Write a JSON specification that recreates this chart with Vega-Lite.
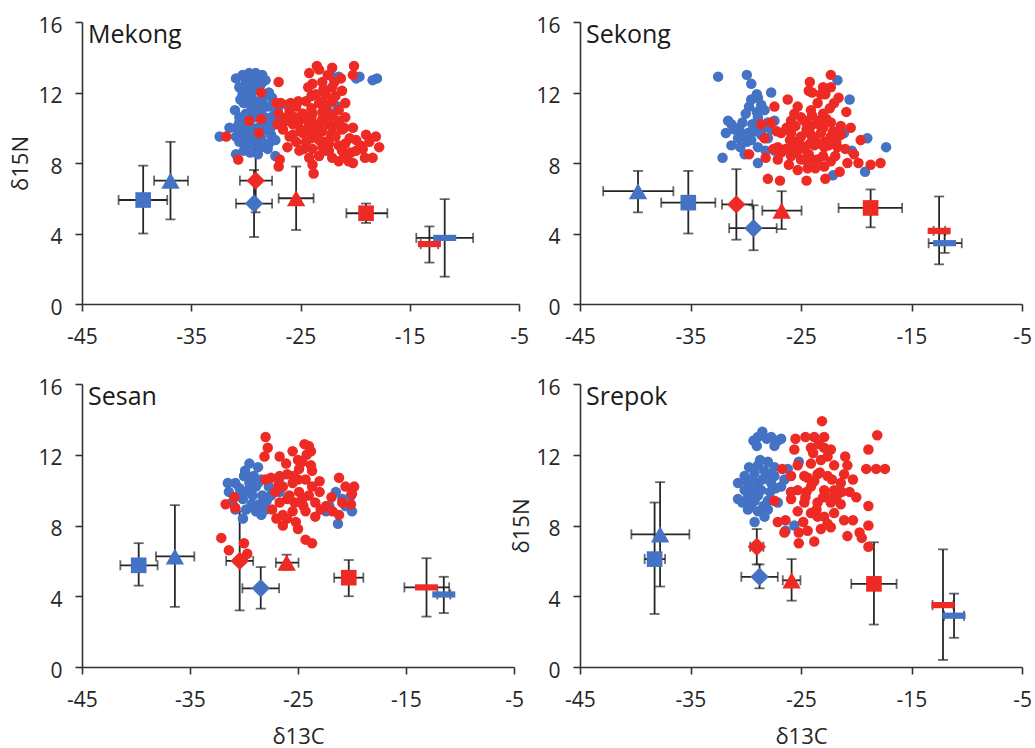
{
"$schema":"https://vega.github.io/schema/vega-lite/v6.json",
"padding":{"left":9,"top":15,"right":0,"bottom":0},
"data":{"values":[
{"p":"Mekong","k":"pt","g":"b","x":-30.9,"y":12.8},{"p":"Mekong","k":"pt","g":"b","x":-30.3,"y":13.0},{"p":"Mekong","k":"pt","g":"b","x":-29.7,"y":13.1},{"p":"Mekong","k":"pt","g":"b","x":-29.1,"y":13.1},{"p":"Mekong","k":"pt","g":"b","x":-28.5,"y":13.0},{"p":"Mekong","k":"pt","g":"b","x":-28.2,"y":12.7},{"p":"Mekong","k":"pt","g":"b","x":-28.6,"y":12.5},{"p":"Mekong","k":"pt","g":"b","x":-29.4,"y":12.5},{"p":"Mekong","k":"pt","g":"b","x":-30.0,"y":12.6},{"p":"Mekong","k":"pt","g":"b","x":-30.6,"y":12.3},{"p":"Mekong","k":"pt","g":"b","x":-30.3,"y":11.9},{"p":"Mekong","k":"pt","g":"b","x":-29.7,"y":11.7},{"p":"Mekong","k":"pt","g":"b","x":-29.1,"y":11.5},{"p":"Mekong","k":"pt","g":"b","x":-28.5,"y":11.6},{"p":"Mekong","k":"pt","g":"b","x":-27.9,"y":12.0},{"p":"Mekong","k":"pt","g":"b","x":-27.6,"y":11.7},{"p":"Mekong","k":"pt","g":"b","x":-28.0,"y":11.2},{"p":"Mekong","k":"pt","g":"b","x":-28.8,"y":11.1},{"p":"Mekong","k":"pt","g":"b","x":-29.5,"y":11.2},{"p":"Mekong","k":"pt","g":"b","x":-30.0,"y":10.8},{"p":"Mekong","k":"pt","g":"b","x":-30.6,"y":10.6},{"p":"Mekong","k":"pt","g":"b","x":-30.9,"y":10.0},{"p":"Mekong","k":"pt","g":"b","x":-30.3,"y":10.2},{"p":"Mekong","k":"pt","g":"b","x":-29.7,"y":10.4},{"p":"Mekong","k":"pt","g":"b","x":-29.1,"y":10.6},{"p":"Mekong","k":"pt","g":"b","x":-28.3,"y":10.6},{"p":"Mekong","k":"pt","g":"b","x":-27.7,"y":10.6},{"p":"Mekong","k":"pt","g":"b","x":-27.3,"y":10.9},{"p":"Mekong","k":"pt","g":"b","x":-27.0,"y":11.2},{"p":"Mekong","k":"pt","g":"b","x":-26.2,"y":11.3},{"p":"Mekong","k":"pt","g":"b","x":-30.9,"y":9.5},{"p":"Mekong","k":"pt","g":"b","x":-30.3,"y":9.6},{"p":"Mekong","k":"pt","g":"b","x":-29.7,"y":9.7},{"p":"Mekong","k":"pt","g":"b","x":-29.1,"y":9.8},{"p":"Mekong","k":"pt","g":"b","x":-28.5,"y":9.8},{"p":"Mekong","k":"pt","g":"b","x":-27.7,"y":9.6},{"p":"Mekong","k":"pt","g":"b","x":-27.3,"y":9.3},{"p":"Mekong","k":"pt","g":"b","x":-27.9,"y":9.1},{"p":"Mekong","k":"pt","g":"b","x":-28.6,"y":8.9},{"p":"Mekong","k":"pt","g":"b","x":-29.4,"y":9.0},{"p":"Mekong","k":"pt","g":"b","x":-30.0,"y":9.1},{"p":"Mekong","k":"pt","g":"b","x":-30.6,"y":9.2},{"p":"Mekong","k":"pt","g":"b","x":-32.4,"y":9.5},{"p":"Mekong","k":"pt","g":"b","x":-30.9,"y":8.5},{"p":"Mekong","k":"pt","g":"b","x":-28.9,"y":8.5},{"p":"Mekong","k":"pt","g":"b","x":-27.3,"y":8.4},{"p":"Mekong","k":"pt","g":"b","x":-27.0,"y":10.6},{"p":"Mekong","k":"pt","g":"b","x":-28.2,"y":10.2},{"p":"Mekong","k":"pt","g":"b","x":-29.4,"y":9.5},{"p":"Mekong","k":"pt","g":"b","x":-31.5,"y":10.0},{"p":"Mekong","k":"pt","g":"b","x":-29.9,"y":12.1},{"p":"Mekong","k":"pt","g":"b","x":-28.9,"y":12.2},{"p":"Mekong","k":"pt","g":"b","x":-30.2,"y":11.4},{"p":"Mekong","k":"pt","g":"b","x":-28.6,"y":10.9},{"p":"Mekong","k":"pt","g":"b","x":-29.5,"y":10.0},{"p":"Mekong","k":"pt","g":"b","x":-28.0,"y":9.9},{"p":"Mekong","k":"pt","g":"b","x":-30.4,"y":9.9},{"p":"Mekong","k":"pt","g":"b","x":-29.0,"y":9.3},{"p":"Mekong","k":"pt","g":"b","x":-31.0,"y":11.0},{"p":"Mekong","k":"pt","g":"b","x":-29.7,"y":12.9},{"p":"Mekong","k":"pt","g":"b","x":-22.1,"y":12.9},{"p":"Mekong","k":"pt","g":"b","x":-21.5,"y":12.9},{"p":"Mekong","k":"pt","g":"b","x":-19.9,"y":12.8},{"p":"Mekong","k":"pt","g":"b","x":-19.6,"y":12.9},{"p":"Mekong","k":"pt","g":"b","x":-18.4,"y":12.7},{"p":"Mekong","k":"pt","g":"b","x":-18.0,"y":12.8},{"p":"Mekong","k":"pt","g":"b","x":-22.1,"y":10.8},{"p":"Mekong","k":"pt","g":"b","x":-21.6,"y":11.2},
{"p":"Mekong","k":"pt","g":"b","x":-30.0,"y":12.9},{"p":"Mekong","k":"pt","g":"b","x":-29.2,"y":12.8},{"p":"Mekong","k":"pt","g":"b","x":-28.8,"y":12.3},{"p":"Mekong","k":"pt","g":"b","x":-29.6,"y":12.2},{"p":"Mekong","k":"pt","g":"b","x":-30.5,"y":11.6},{"p":"Mekong","k":"pt","g":"b","x":-29.5,"y":11.9},{"p":"Mekong","k":"pt","g":"b","x":-28.3,"y":11.9},{"p":"Mekong","k":"pt","g":"b","x":-28.7,"y":11.3},{"p":"Mekong","k":"pt","g":"b","x":-29.3,"y":11.0},{"p":"Mekong","k":"pt","g":"b","x":-29.8,"y":10.7},{"p":"Mekong","k":"pt","g":"b","x":-30.6,"y":10.3},{"p":"Mekong","k":"pt","g":"b","x":-28.9,"y":10.0},{"p":"Mekong","k":"pt","g":"b","x":-27.9,"y":10.3},{"p":"Mekong","k":"pt","g":"b","x":-27.6,"y":10.1},{"p":"Mekong","k":"pt","g":"b","x":-28.6,"y":9.4},{"p":"Mekong","k":"pt","g":"b","x":-29.8,"y":9.3},{"p":"Mekong","k":"pt","g":"b","x":-30.2,"y":8.7},{"p":"Mekong","k":"pt","g":"b","x":-28.0,"y":8.8},{"p":"Mekong","k":"pt","g":"b","x":-29.6,"y":8.6},
{"p":"Mekong","k":"pt","g":"r","x":-23.5,"y":13.5},{"p":"Mekong","k":"pt","g":"r","x":-23.3,"y":13.3},{"p":"Mekong","k":"pt","g":"r","x":-24.2,"y":13.1},{"p":"Mekong","k":"pt","g":"r","x":-22.1,"y":13.4},{"p":"Mekong","k":"pt","g":"r","x":-20.1,"y":13.5},{"p":"Mekong","k":"pt","g":"r","x":-20.2,"y":13.0},{"p":"Mekong","k":"pt","g":"r","x":-21.3,"y":12.8},{"p":"Mekong","k":"pt","g":"r","x":-22.5,"y":13.0},{"p":"Mekong","k":"pt","g":"r","x":-23.9,"y":12.5},{"p":"Mekong","k":"pt","g":"r","x":-23.0,"y":12.6},{"p":"Mekong","k":"pt","g":"r","x":-22.1,"y":12.3},{"p":"Mekong","k":"pt","g":"r","x":-22.7,"y":11.9},{"p":"Mekong","k":"pt","g":"r","x":-23.6,"y":11.9},{"p":"Mekong","k":"pt","g":"r","x":-24.5,"y":11.5},{"p":"Mekong","k":"pt","g":"r","x":-23.3,"y":11.4},{"p":"Mekong","k":"pt","g":"r","x":-22.1,"y":11.5},{"p":"Mekong","k":"pt","g":"r","x":-21.2,"y":12.1},{"p":"Mekong","k":"pt","g":"r","x":-20.9,"y":11.4},{"p":"Mekong","k":"pt","g":"r","x":-27.0,"y":10.8},{"p":"Mekong","k":"pt","g":"r","x":-26.0,"y":11.0},{"p":"Mekong","k":"pt","g":"r","x":-25.4,"y":11.2},{"p":"Mekong","k":"pt","g":"r","x":-24.8,"y":10.8},{"p":"Mekong","k":"pt","g":"r","x":-23.9,"y":10.8},{"p":"Mekong","k":"pt","g":"r","x":-23.0,"y":10.9},{"p":"Mekong","k":"pt","g":"r","x":-22.1,"y":10.7},{"p":"Mekong","k":"pt","g":"r","x":-21.5,"y":11.0},{"p":"Mekong","k":"pt","g":"r","x":-26.3,"y":10.4},{"p":"Mekong","k":"pt","g":"r","x":-25.7,"y":10.2},{"p":"Mekong","k":"pt","g":"r","x":-25.1,"y":10.4},{"p":"Mekong","k":"pt","g":"r","x":-24.2,"y":10.2},{"p":"Mekong","k":"pt","g":"r","x":-23.3,"y":10.2},{"p":"Mekong","k":"pt","g":"r","x":-22.4,"y":10.2},{"p":"Mekong","k":"pt","g":"r","x":-21.5,"y":10.4},{"p":"Mekong","k":"pt","g":"r","x":-20.9,"y":10.6},{"p":"Mekong","k":"pt","g":"r","x":-20.2,"y":10.0},{"p":"Mekong","k":"pt","g":"r","x":-25.7,"y":9.6},{"p":"Mekong","k":"pt","g":"r","x":-24.8,"y":9.7},{"p":"Mekong","k":"pt","g":"r","x":-23.9,"y":9.6},{"p":"Mekong","k":"pt","g":"r","x":-23.0,"y":9.8},{"p":"Mekong","k":"pt","g":"r","x":-22.1,"y":9.7},{"p":"Mekong","k":"pt","g":"r","x":-21.2,"y":9.9},{"p":"Mekong","k":"pt","g":"r","x":-19.0,"y":9.6},{"p":"Mekong","k":"pt","g":"r","x":-18.1,"y":9.5},{"p":"Mekong","k":"pt","g":"r","x":-25.4,"y":9.2},{"p":"Mekong","k":"pt","g":"r","x":-24.5,"y":9.2},{"p":"Mekong","k":"pt","g":"r","x":-23.3,"y":9.3},{"p":"Mekong","k":"pt","g":"r","x":-22.4,"y":9.1},{"p":"Mekong","k":"pt","g":"r","x":-21.5,"y":9.0},{"p":"Mekong","k":"pt","g":"r","x":-20.9,"y":9.1},{"p":"Mekong","k":"pt","g":"r","x":-19.9,"y":9.3},{"p":"Mekong","k":"pt","g":"r","x":-17.8,"y":8.9},{"p":"Mekong","k":"pt","g":"r","x":-19.3,"y":8.8},{"p":"Mekong","k":"pt","g":"r","x":-23.9,"y":8.8},{"p":"Mekong","k":"pt","g":"r","x":-22.7,"y":8.7},{"p":"Mekong","k":"pt","g":"r","x":-21.2,"y":8.7},{"p":"Mekong","k":"pt","g":"r","x":-19.9,"y":8.7},{"p":"Mekong","k":"pt","g":"r","x":-20.6,"y":8.1},{"p":"Mekong","k":"pt","g":"r","x":-22.1,"y":8.3},{"p":"Mekong","k":"pt","g":"r","x":-23.3,"y":8.4},{"p":"Mekong","k":"pt","g":"r","x":-24.2,"y":8.3},{"p":"Mekong","k":"pt","g":"r","x":-23.9,"y":7.9},{"p":"Mekong","k":"pt","g":"r","x":-23.8,"y":7.4},{"p":"Mekong","k":"pt","g":"r","x":-21.5,"y":8.1},{"p":"Mekong","k":"pt","g":"r","x":-20.2,"y":8.0},{"p":"Mekong","k":"pt","g":"r","x":-18.4,"y":8.3},{"p":"Mekong","k":"pt","g":"r","x":-26.3,"y":10.6},{"p":"Mekong","k":"pt","g":"r","x":-27.1,"y":10.2},{"p":"Mekong","k":"pt","g":"r","x":-26.8,"y":11.4},{"p":"Mekong","k":"pt","g":"r","x":-22.2,"y":9.5},{"p":"Mekong","k":"pt","g":"r","x":-25.1,"y":8.7},{"p":"Mekong","k":"pt","g":"r","x":-18.7,"y":9.2},{"p":"Mekong","k":"pt","g":"r","x":-27.0,"y":12.6},{"p":"Mekong","k":"pt","g":"r","x":-28.6,"y":12.0},{"p":"Mekong","k":"pt","g":"r","x":-29.7,"y":10.4},{"p":"Mekong","k":"pt","g":"r","x":-28.6,"y":10.5},{"p":"Mekong","k":"pt","g":"r","x":-28.8,"y":9.7},{"p":"Mekong","k":"pt","g":"r","x":-31.8,"y":9.5},{"p":"Mekong","k":"pt","g":"r","x":-30.7,"y":8.2},{"p":"Mekong","k":"pt","g":"r","x":-26.9,"y":8.2},{"p":"Mekong","k":"pt","g":"r","x":-27.0,"y":7.8},{"p":"Mekong","k":"pt","g":"r","x":-27.2,"y":11.4},{"p":"Mekong","k":"pt","g":"r","x":-24.0,"y":11.8},{"p":"Mekong","k":"pt","g":"r","x":-23.0,"y":11.5},{"p":"Mekong","k":"pt","g":"r","x":-24.5,"y":10.5},{"p":"Mekong","k":"pt","g":"r","x":-23.5,"y":10.0},{"p":"Mekong","k":"pt","g":"r","x":-22.5,"y":10.5},{"p":"Mekong","k":"pt","g":"r","x":-25.0,"y":9.9},{"p":"Mekong","k":"pt","g":"r","x":-24.0,"y":9.4},{"p":"Mekong","k":"pt","g":"r","x":-22.8,"y":9.2},{"p":"Mekong","k":"pt","g":"r","x":-21.8,"y":9.5},{"p":"Mekong","k":"pt","g":"r","x":-23.0,"y":8.9},{"p":"Mekong","k":"pt","g":"r","x":-24.8,"y":10.8},{"p":"Mekong","k":"pt","g":"r","x":-21.0,"y":10.0},
{"p":"Mekong","k":"pt","g":"r","x":-24.3,"y":12.3},{"p":"Mekong","k":"pt","g":"r","x":-22.9,"y":12.2},{"p":"Mekong","k":"pt","g":"r","x":-21.9,"y":12.6},{"p":"Mekong","k":"pt","g":"r","x":-25.2,"y":11.5},{"p":"Mekong","k":"pt","g":"r","x":-25.9,"y":11.4},{"p":"Mekong","k":"pt","g":"r","x":-24.0,"y":11.1},{"p":"Mekong","k":"pt","g":"r","x":-22.6,"y":11.2},{"p":"Mekong","k":"pt","g":"r","x":-21.8,"y":11.8},{"p":"Mekong","k":"pt","g":"r","x":-25.5,"y":10.6},{"p":"Mekong","k":"pt","g":"r","x":-24.0,"y":10.5},{"p":"Mekong","k":"pt","g":"r","x":-23.0,"y":10.5},{"p":"Mekong","k":"pt","g":"r","x":-22.0,"y":10.1},{"p":"Mekong","k":"pt","g":"r","x":-26.6,"y":9.9},{"p":"Mekong","k":"pt","g":"r","x":-24.4,"y":9.9},{"p":"Mekong","k":"pt","g":"r","x":-23.4,"y":9.6},{"p":"Mekong","k":"pt","g":"r","x":-20.5,"y":9.4},{"p":"Mekong","k":"pt","g":"r","x":-19.5,"y":9.0},{"p":"Mekong","k":"pt","g":"r","x":-26.0,"y":9.5},{"p":"Mekong","k":"pt","g":"r","x":-22.4,"y":8.7},{"p":"Mekong","k":"pt","g":"r","x":-21.0,"y":8.4},{"p":"Mekong","k":"pt","g":"r","x":-24.7,"y":8.8},{"p":"Mekong","k":"pt","g":"r","x":-26.2,"y":8.9},{"p":"Mekong","k":"pt","g":"r","x":-19.1,"y":8.3},{"p":"Mekong","k":"pt","g":"r","x":-20.4,"y":8.6},
{"p":"Sekong","k":"pt","g":"b","x":-32.5,"y":12.9},{"p":"Sekong","k":"pt","g":"b","x":-29.9,"y":13.0},{"p":"Sekong","k":"pt","g":"b","x":-29.5,"y":12.5},{"p":"Sekong","k":"pt","g":"b","x":-27.7,"y":12.0},{"p":"Sekong","k":"pt","g":"b","x":-28.9,"y":11.7},{"p":"Sekong","k":"pt","g":"b","x":-29.7,"y":11.2},{"p":"Sekong","k":"pt","g":"b","x":-30.0,"y":10.8},{"p":"Sekong","k":"pt","g":"b","x":-28.6,"y":11.3},{"p":"Sekong","k":"pt","g":"b","x":-28.3,"y":11.0},{"p":"Sekong","k":"pt","g":"b","x":-28.9,"y":10.6},{"p":"Sekong","k":"pt","g":"b","x":-31.3,"y":10.2},{"p":"Sekong","k":"pt","g":"b","x":-31.8,"y":9.7},{"p":"Sekong","k":"pt","g":"b","x":-31.0,"y":9.9},{"p":"Sekong","k":"pt","g":"b","x":-30.4,"y":9.6},{"p":"Sekong","k":"pt","g":"b","x":-29.8,"y":9.7},{"p":"Sekong","k":"pt","g":"b","x":-29.2,"y":9.8},{"p":"Sekong","k":"pt","g":"b","x":-28.6,"y":9.6},{"p":"Sekong","k":"pt","g":"b","x":-28.0,"y":9.4},{"p":"Sekong","k":"pt","g":"b","x":-27.7,"y":9.9},{"p":"Sekong","k":"pt","g":"b","x":-31.3,"y":9.0},{"p":"Sekong","k":"pt","g":"b","x":-30.1,"y":8.5},{"p":"Sekong","k":"pt","g":"b","x":-28.9,"y":8.0},{"p":"Sekong","k":"pt","g":"b","x":-32.1,"y":8.3},{"p":"Sekong","k":"pt","g":"b","x":-28.2,"y":8.7},{"p":"Sekong","k":"pt","g":"b","x":-28.9,"y":8.9},{"p":"Sekong","k":"pt","g":"b","x":-29.5,"y":9.3},{"p":"Sekong","k":"pt","g":"b","x":-27.4,"y":8.7},{"p":"Sekong","k":"pt","g":"b","x":-21.7,"y":12.7},{"p":"Sekong","k":"pt","g":"b","x":-20.6,"y":11.6},{"p":"Sekong","k":"pt","g":"b","x":-19.0,"y":9.4},{"p":"Sekong","k":"pt","g":"b","x":-17.3,"y":8.9},{"p":"Sekong","k":"pt","g":"b","x":-19.2,"y":7.5},{"p":"Sekong","k":"pt","g":"b","x":-22.1,"y":7.3},{"p":"Sekong","k":"pt","g":"b","x":-20.4,"y":8.7},{"p":"Sekong","k":"pt","g":"b","x":-21.1,"y":9.7},{"p":"Sekong","k":"pt","g":"b","x":-27.4,"y":10.4},{"p":"Sekong","k":"pt","g":"b","x":-28.0,"y":10.3},{"p":"Sekong","k":"pt","g":"b","x":-30.7,"y":9.4},
{"p":"Sekong","k":"pt","g":"b","x":-30.3,"y":10.3},{"p":"Sekong","k":"pt","g":"b","x":-29.4,"y":10.2},{"p":"Sekong","k":"pt","g":"b","x":-29.0,"y":10.9},{"p":"Sekong","k":"pt","g":"b","x":-30.6,"y":10.0},{"p":"Sekong","k":"pt","g":"b","x":-31.6,"y":10.4},{"p":"Sekong","k":"pt","g":"b","x":-29.9,"y":9.2},{"p":"Sekong","k":"pt","g":"b","x":-30.5,"y":8.9},{"p":"Sekong","k":"pt","g":"b","x":-28.4,"y":10.0},{"p":"Sekong","k":"pt","g":"b","x":-29.0,"y":11.9},{"p":"Sekong","k":"pt","g":"b","x":-29.5,"y":11.6},
{"p":"Sekong","k":"pt","g":"r","x":-22.3,"y":13.0},{"p":"Sekong","k":"pt","g":"r","x":-24.2,"y":12.6},{"p":"Sekong","k":"pt","g":"r","x":-22.3,"y":12.3},{"p":"Sekong","k":"pt","g":"r","x":-21.6,"y":11.7},{"p":"Sekong","k":"pt","g":"r","x":-23.2,"y":11.9},{"p":"Sekong","k":"pt","g":"r","x":-24.3,"y":12.1},{"p":"Sekong","k":"pt","g":"r","x":-26.2,"y":11.6},{"p":"Sekong","k":"pt","g":"r","x":-25.3,"y":11.2},{"p":"Sekong","k":"pt","g":"r","x":-24.1,"y":11.0},{"p":"Sekong","k":"pt","g":"r","x":-22.4,"y":11.1},{"p":"Sekong","k":"pt","g":"r","x":-27.4,"y":11.2},{"p":"Sekong","k":"pt","g":"r","x":-27.7,"y":10.3},{"p":"Sekong","k":"pt","g":"r","x":-28.6,"y":10.2},{"p":"Sekong","k":"pt","g":"r","x":-28.3,"y":9.4},{"p":"Sekong","k":"pt","g":"r","x":-25.9,"y":10.4},{"p":"Sekong","k":"pt","g":"r","x":-24.7,"y":10.4},{"p":"Sekong","k":"pt","g":"r","x":-23.5,"y":10.4},{"p":"Sekong","k":"pt","g":"r","x":-22.3,"y":10.3},{"p":"Sekong","k":"pt","g":"r","x":-21.4,"y":10.1},{"p":"Sekong","k":"pt","g":"r","x":-20.5,"y":10.0},{"p":"Sekong","k":"pt","g":"r","x":-26.8,"y":9.7},{"p":"Sekong","k":"pt","g":"r","x":-25.9,"y":9.7},{"p":"Sekong","k":"pt","g":"r","x":-25.0,"y":9.5},{"p":"Sekong","k":"pt","g":"r","x":-24.1,"y":9.6},{"p":"Sekong","k":"pt","g":"r","x":-23.2,"y":9.7},{"p":"Sekong","k":"pt","g":"r","x":-22.3,"y":9.5},{"p":"Sekong","k":"pt","g":"r","x":-21.4,"y":9.6},{"p":"Sekong","k":"pt","g":"r","x":-19.6,"y":9.3},{"p":"Sekong","k":"pt","g":"r","x":-27.1,"y":8.9},{"p":"Sekong","k":"pt","g":"r","x":-25.9,"y":8.9},{"p":"Sekong","k":"pt","g":"r","x":-24.7,"y":8.8},{"p":"Sekong","k":"pt","g":"r","x":-23.8,"y":9.0},{"p":"Sekong","k":"pt","g":"r","x":-22.9,"y":8.9},{"p":"Sekong","k":"pt","g":"r","x":-21.7,"y":8.9},{"p":"Sekong","k":"pt","g":"r","x":-20.2,"y":8.5},{"p":"Sekong","k":"pt","g":"r","x":-29.7,"y":8.5},{"p":"Sekong","k":"pt","g":"r","x":-28.2,"y":8.3},{"p":"Sekong","k":"pt","g":"r","x":-26.8,"y":8.6},{"p":"Sekong","k":"pt","g":"r","x":-25.9,"y":8.4},{"p":"Sekong","k":"pt","g":"r","x":-24.7,"y":8.2},{"p":"Sekong","k":"pt","g":"r","x":-23.5,"y":8.2},{"p":"Sekong","k":"pt","g":"r","x":-22.3,"y":8.1},{"p":"Sekong","k":"pt","g":"r","x":-20.8,"y":8.0},{"p":"Sekong","k":"pt","g":"r","x":-19.8,"y":8.0},{"p":"Sekong","k":"pt","g":"r","x":-18.7,"y":7.9},{"p":"Sekong","k":"pt","g":"r","x":-17.8,"y":8.0},{"p":"Sekong","k":"pt","g":"r","x":-25.3,"y":7.6},{"p":"Sekong","k":"pt","g":"r","x":-24.4,"y":7.7},{"p":"Sekong","k":"pt","g":"r","x":-22.9,"y":7.8},{"p":"Sekong","k":"pt","g":"r","x":-28.0,"y":7.1},{"p":"Sekong","k":"pt","g":"r","x":-26.9,"y":7.0},{"p":"Sekong","k":"pt","g":"r","x":-24.5,"y":7.0},{"p":"Sekong","k":"pt","g":"r","x":-22.8,"y":7.1},{"p":"Sekong","k":"pt","g":"r","x":-27.1,"y":8.2},{"p":"Sekong","k":"pt","g":"r","x":-24.1,"y":10.1},{"p":"Sekong","k":"pt","g":"r","x":-25.0,"y":8.2},{"p":"Sekong","k":"pt","g":"r","x":-25.6,"y":10.8},{"p":"Sekong","k":"pt","g":"r","x":-24.5,"y":9.9},{"p":"Sekong","k":"pt","g":"r","x":-23.0,"y":10.0},{"p":"Sekong","k":"pt","g":"r","x":-25.5,"y":9.2},{"p":"Sekong","k":"pt","g":"r","x":-23.8,"y":9.4},{"p":"Sekong","k":"pt","g":"r","x":-22.8,"y":9.2},{"p":"Sekong","k":"pt","g":"r","x":-24.3,"y":8.5},{"p":"Sekong","k":"pt","g":"r","x":-26.3,"y":10.0},{"p":"Sekong","k":"pt","g":"r","x":-21.0,"y":8.8},{"p":"Sekong","k":"pt","g":"r","x":-23.5,"y":11.4},{"p":"Sekong","k":"pt","g":"r","x":-22.0,"y":11.4},
{"p":"Sekong","k":"pt","g":"r","x":-25.0,"y":10.6},{"p":"Sekong","k":"pt","g":"r","x":-24.0,"y":10.7},{"p":"Sekong","k":"pt","g":"r","x":-23.0,"y":10.8},{"p":"Sekong","k":"pt","g":"r","x":-22.7,"y":10.5},{"p":"Sekong","k":"pt","g":"r","x":-25.5,"y":10.1},{"p":"Sekong","k":"pt","g":"r","x":-24.5,"y":10.3},{"p":"Sekong","k":"pt","g":"r","x":-23.4,"y":10.2},{"p":"Sekong","k":"pt","g":"r","x":-22.1,"y":9.8},{"p":"Sekong","k":"pt","g":"r","x":-26.0,"y":9.3},{"p":"Sekong","k":"pt","g":"r","x":-25.0,"y":9.0},{"p":"Sekong","k":"pt","g":"r","x":-24.2,"y":9.1},{"p":"Sekong","k":"pt","g":"r","x":-23.3,"y":9.1},{"p":"Sekong","k":"pt","g":"r","x":-22.5,"y":9.0},{"p":"Sekong","k":"pt","g":"r","x":-21.8,"y":9.2},{"p":"Sekong","k":"pt","g":"r","x":-26.4,"y":8.8},{"p":"Sekong","k":"pt","g":"r","x":-25.4,"y":8.6},{"p":"Sekong","k":"pt","g":"r","x":-24.0,"y":8.2},{"p":"Sekong","k":"pt","g":"r","x":-23.0,"y":8.4},{"p":"Sekong","k":"pt","g":"r","x":-21.9,"y":8.4},{"p":"Sekong","k":"pt","g":"r","x":-26.1,"y":7.9},{"p":"Sekong","k":"pt","g":"r","x":-23.7,"y":7.7},{"p":"Sekong","k":"pt","g":"r","x":-21.5,"y":7.5},{"p":"Sekong","k":"pt","g":"r","x":-24.0,"y":12.0},{"p":"Sekong","k":"pt","g":"r","x":-23.0,"y":12.3},{"p":"Sekong","k":"pt","g":"r","x":-22.8,"y":11.9},{"p":"Sekong","k":"pt","g":"r","x":-20.9,"y":10.9},{"p":"Sekong","k":"pt","g":"r","x":-27.2,"y":9.8},{"p":"Sekong","k":"pt","g":"r","x":-27.5,"y":8.8},
{"p":"Sesan","k":"pt","g":"b","x":-29.5,"y":11.5},{"p":"Sesan","k":"pt","g":"b","x":-28.7,"y":11.3},{"p":"Sesan","k":"pt","g":"b","x":-29.1,"y":10.8},{"p":"Sesan","k":"pt","g":"b","x":-30.0,"y":10.8},{"p":"Sesan","k":"pt","g":"b","x":-30.8,"y":10.4},{"p":"Sesan","k":"pt","g":"b","x":-31.5,"y":10.4},{"p":"Sesan","k":"pt","g":"b","x":-31.4,"y":9.9},{"p":"Sesan","k":"pt","g":"b","x":-30.4,"y":10.1},{"p":"Sesan","k":"pt","g":"b","x":-29.5,"y":10.4},{"p":"Sesan","k":"pt","g":"b","x":-28.4,"y":10.6},{"p":"Sesan","k":"pt","g":"b","x":-27.7,"y":10.2},{"p":"Sesan","k":"pt","g":"b","x":-26.7,"y":10.7},{"p":"Sesan","k":"pt","g":"b","x":-30.1,"y":9.5},{"p":"Sesan","k":"pt","g":"b","x":-29.2,"y":9.7},{"p":"Sesan","k":"pt","g":"b","x":-28.3,"y":9.7},{"p":"Sesan","k":"pt","g":"b","x":-27.5,"y":9.7},{"p":"Sesan","k":"pt","g":"b","x":-31.1,"y":9.3},{"p":"Sesan","k":"pt","g":"b","x":-29.8,"y":8.9},{"p":"Sesan","k":"pt","g":"b","x":-28.9,"y":8.8},{"p":"Sesan","k":"pt","g":"b","x":-28.0,"y":8.9},{"p":"Sesan","k":"pt","g":"b","x":-30.1,"y":8.4},{"p":"Sesan","k":"pt","g":"b","x":-28.4,"y":8.6},{"p":"Sesan","k":"pt","g":"b","x":-26.7,"y":9.9},{"p":"Sesan","k":"pt","g":"b","x":-22.4,"y":8.8},{"p":"Sesan","k":"pt","g":"b","x":-21.5,"y":9.9},{"p":"Sesan","k":"pt","g":"b","x":-20.9,"y":9.5},{"p":"Sesan","k":"pt","g":"b","x":-20.1,"y":9.7},{"p":"Sesan","k":"pt","g":"b","x":-20.0,"y":8.8},{"p":"Sesan","k":"pt","g":"b","x":-21.3,"y":8.1},{"p":"Sesan","k":"pt","g":"b","x":-20.6,"y":9.1},{"p":"Sesan","k":"pt","g":"b","x":-22.1,"y":9.1},{"p":"Sesan","k":"pt","g":"b","x":-29.6,"y":10.0},{"p":"Sesan","k":"pt","g":"b","x":-28.9,"y":10.2},{"p":"Sesan","k":"pt","g":"b","x":-30.5,"y":9.7},{"p":"Sesan","k":"pt","g":"b","x":-29.3,"y":9.2},
{"p":"Sesan","k":"pt","g":"b","x":-29.9,"y":11.1},{"p":"Sesan","k":"pt","g":"b","x":-28.7,"y":10.4},{"p":"Sesan","k":"pt","g":"b","x":-29.9,"y":9.9},{"p":"Sesan","k":"pt","g":"b","x":-28.6,"y":9.2},{"p":"Sesan","k":"pt","g":"b","x":-27.9,"y":9.4},{"p":"Sesan","k":"pt","g":"b","x":-30.8,"y":8.9},
{"p":"Sesan","k":"pt","g":"r","x":-28.0,"y":13.0},{"p":"Sesan","k":"pt","g":"r","x":-27.8,"y":12.4},{"p":"Sesan","k":"pt","g":"r","x":-28.1,"y":11.9},{"p":"Sesan","k":"pt","g":"r","x":-26.7,"y":11.9},{"p":"Sesan","k":"pt","g":"r","x":-25.5,"y":12.2},{"p":"Sesan","k":"pt","g":"r","x":-24.4,"y":12.6},{"p":"Sesan","k":"pt","g":"r","x":-24.0,"y":12.5},{"p":"Sesan","k":"pt","g":"r","x":-23.8,"y":12.2},{"p":"Sesan","k":"pt","g":"r","x":-25.0,"y":11.7},{"p":"Sesan","k":"pt","g":"r","x":-26.1,"y":11.5},{"p":"Sesan","k":"pt","g":"r","x":-24.9,"y":11.2},{"p":"Sesan","k":"pt","g":"r","x":-23.7,"y":11.1},{"p":"Sesan","k":"pt","g":"r","x":-27.5,"y":10.7},{"p":"Sesan","k":"pt","g":"r","x":-28.0,"y":10.6},{"p":"Sesan","k":"pt","g":"r","x":-26.4,"y":10.2},{"p":"Sesan","k":"pt","g":"r","x":-25.5,"y":10.4},{"p":"Sesan","k":"pt","g":"r","x":-24.3,"y":10.6},{"p":"Sesan","k":"pt","g":"r","x":-23.7,"y":10.2},{"p":"Sesan","k":"pt","g":"r","x":-23.0,"y":9.9},{"p":"Sesan","k":"pt","g":"r","x":-27.1,"y":9.9},{"p":"Sesan","k":"pt","g":"r","x":-26.7,"y":9.3},{"p":"Sesan","k":"pt","g":"r","x":-25.8,"y":9.7},{"p":"Sesan","k":"pt","g":"r","x":-24.9,"y":9.9},{"p":"Sesan","k":"pt","g":"r","x":-24.0,"y":9.7},{"p":"Sesan","k":"pt","g":"r","x":-23.4,"y":9.3},{"p":"Sesan","k":"pt","g":"r","x":-22.4,"y":9.1},{"p":"Sesan","k":"pt","g":"r","x":-27.4,"y":8.9},{"p":"Sesan","k":"pt","g":"r","x":-26.4,"y":8.6},{"p":"Sesan","k":"pt","g":"r","x":-25.5,"y":8.8},{"p":"Sesan","k":"pt","g":"r","x":-24.3,"y":8.8},{"p":"Sesan","k":"pt","g":"r","x":-23.4,"y":8.5},{"p":"Sesan","k":"pt","g":"r","x":-25.2,"y":8.2},{"p":"Sesan","k":"pt","g":"r","x":-26.4,"y":8.0},{"p":"Sesan","k":"pt","g":"r","x":-25.0,"y":7.8},{"p":"Sesan","k":"pt","g":"r","x":-24.3,"y":7.2},{"p":"Sesan","k":"pt","g":"r","x":-23.7,"y":7.0},{"p":"Sesan","k":"pt","g":"r","x":-21.2,"y":10.7},{"p":"Sesan","k":"pt","g":"r","x":-20.6,"y":10.2},{"p":"Sesan","k":"pt","g":"r","x":-19.8,"y":10.2},{"p":"Sesan","k":"pt","g":"r","x":-20.0,"y":9.8},{"p":"Sesan","k":"pt","g":"r","x":-21.9,"y":9.6},{"p":"Sesan","k":"pt","g":"r","x":-20.9,"y":9.3},{"p":"Sesan","k":"pt","g":"r","x":-20.1,"y":9.2},{"p":"Sesan","k":"pt","g":"r","x":-21.8,"y":8.8},{"p":"Sesan","k":"pt","g":"r","x":-21.2,"y":8.6},{"p":"Sesan","k":"pt","g":"r","x":-31.7,"y":9.2},{"p":"Sesan","k":"pt","g":"r","x":-30.8,"y":9.0},{"p":"Sesan","k":"pt","g":"r","x":-30.9,"y":9.6},{"p":"Sesan","k":"pt","g":"r","x":-32.1,"y":7.3},{"p":"Sesan","k":"pt","g":"r","x":-31.4,"y":6.6},{"p":"Sesan","k":"pt","g":"r","x":-30.0,"y":7.0},{"p":"Sesan","k":"pt","g":"r","x":-29.7,"y":6.4},{"p":"Sesan","k":"pt","g":"r","x":-30.1,"y":6.1},{"p":"Sesan","k":"pt","g":"r","x":-26.0,"y":9.5},{"p":"Sesan","k":"pt","g":"r","x":-24.6,"y":9.5},{"p":"Sesan","k":"pt","g":"r","x":-23.8,"y":11.4},{"p":"Sesan","k":"pt","g":"r","x":-25.4,"y":10.8},{"p":"Sesan","k":"pt","g":"r","x":-26.7,"y":10.8},
{"p":"Sesan","k":"pt","g":"r","x":-26.0,"y":10.9},{"p":"Sesan","k":"pt","g":"r","x":-25.0,"y":10.6},{"p":"Sesan","k":"pt","g":"r","x":-24.6,"y":11.6},{"p":"Sesan","k":"pt","g":"r","x":-25.3,"y":9.3},{"p":"Sesan","k":"pt","g":"r","x":-24.5,"y":9.1},{"p":"Sesan","k":"pt","g":"r","x":-26.0,"y":8.4},{"p":"Sesan","k":"pt","g":"r","x":-23.0,"y":10.5},{"p":"Sesan","k":"pt","g":"r","x":-24.2,"y":12.0},{"p":"Sesan","k":"pt","g":"r","x":-26.8,"y":10.3},{"p":"Sesan","k":"pt","g":"r","x":-22.9,"y":8.9},{"p":"Sesan","k":"pt","g":"r","x":-27.0,"y":8.4},
{"p":"Srepok","k":"pt","g":"b","x":-28.5,"y":13.3},{"p":"Srepok","k":"pt","g":"b","x":-28.9,"y":13.0},{"p":"Srepok","k":"pt","g":"b","x":-29.0,"y":12.5},{"p":"Srepok","k":"pt","g":"b","x":-27.7,"y":13.0},{"p":"Srepok","k":"pt","g":"b","x":-27.1,"y":12.8},{"p":"Srepok","k":"pt","g":"b","x":-26.8,"y":12.9},{"p":"Srepok","k":"pt","g":"b","x":-27.4,"y":12.5},{"p":"Srepok","k":"pt","g":"b","x":-29.7,"y":11.3},{"p":"Srepok","k":"pt","g":"b","x":-28.9,"y":11.4},{"p":"Srepok","k":"pt","g":"b","x":-28.0,"y":11.6},{"p":"Srepok","k":"pt","g":"b","x":-27.4,"y":11.3},{"p":"Srepok","k":"pt","g":"b","x":-30.1,"y":10.8},{"p":"Srepok","k":"pt","g":"b","x":-29.2,"y":11.0},{"p":"Srepok","k":"pt","g":"b","x":-28.3,"y":11.1},{"p":"Srepok","k":"pt","g":"b","x":-27.4,"y":10.8},{"p":"Srepok","k":"pt","g":"b","x":-26.5,"y":10.6},{"p":"Srepok","k":"pt","g":"b","x":-30.7,"y":10.4},{"p":"Srepok","k":"pt","g":"b","x":-29.8,"y":10.4},{"p":"Srepok","k":"pt","g":"b","x":-28.9,"y":10.4},{"p":"Srepok","k":"pt","g":"b","x":-27.7,"y":10.4},{"p":"Srepok","k":"pt","g":"b","x":-26.8,"y":10.2},{"p":"Srepok","k":"pt","g":"b","x":-25.9,"y":9.9},{"p":"Srepok","k":"pt","g":"b","x":-30.7,"y":9.5},{"p":"Srepok","k":"pt","g":"b","x":-29.8,"y":9.6},{"p":"Srepok","k":"pt","g":"b","x":-28.9,"y":9.7},{"p":"Srepok","k":"pt","g":"b","x":-28.0,"y":9.4},{"p":"Srepok","k":"pt","g":"b","x":-27.1,"y":9.3},{"p":"Srepok","k":"pt","g":"b","x":-29.8,"y":8.9},{"p":"Srepok","k":"pt","g":"b","x":-28.9,"y":8.8},{"p":"Srepok","k":"pt","g":"b","x":-28.0,"y":8.9},{"p":"Srepok","k":"pt","g":"b","x":-29.2,"y":8.2},{"p":"Srepok","k":"pt","g":"b","x":-28.3,"y":8.5},{"p":"Srepok","k":"pt","g":"b","x":-26.4,"y":7.7},{"p":"Srepok","k":"pt","g":"b","x":-25.6,"y":8.0},{"p":"Srepok","k":"pt","g":"b","x":-25.2,"y":11.6},{"p":"Srepok","k":"pt","g":"b","x":-26.2,"y":11.2},{"p":"Srepok","k":"pt","g":"b","x":-30.1,"y":10.0},{"p":"Srepok","k":"pt","g":"b","x":-28.6,"y":10.0},{"p":"Srepok","k":"pt","g":"b","x":-29.3,"y":10.0},{"p":"Srepok","k":"pt","g":"b","x":-28.5,"y":10.6},{"p":"Srepok","k":"pt","g":"b","x":-27.8,"y":9.9},{"p":"Srepok","k":"pt","g":"b","x":-29.5,"y":9.2},
{"p":"Srepok","k":"pt","g":"b","x":-29.4,"y":10.6},{"p":"Srepok","k":"pt","g":"b","x":-28.7,"y":11.7},{"p":"Srepok","k":"pt","g":"b","x":-27.9,"y":10.9},{"p":"Srepok","k":"pt","g":"b","x":-29.2,"y":9.4},{"p":"Srepok","k":"pt","g":"b","x":-28.4,"y":9.1},{"p":"Srepok","k":"pt","g":"b","x":-30.3,"y":9.3},{"p":"Srepok","k":"pt","g":"b","x":-27.3,"y":10.1},{"p":"Srepok","k":"pt","g":"b","x":-28.1,"y":12.9},{"p":"Srepok","k":"pt","g":"b","x":-29.3,"y":12.8},
{"p":"Srepok","k":"pt","g":"r","x":-23.1,"y":13.9},{"p":"Srepok","k":"pt","g":"r","x":-18.1,"y":13.1},{"p":"Srepok","k":"pt","g":"r","x":-25.5,"y":12.9},{"p":"Srepok","k":"pt","g":"r","x":-24.6,"y":13.0},{"p":"Srepok","k":"pt","g":"r","x":-23.8,"y":13.0},{"p":"Srepok","k":"pt","g":"r","x":-22.9,"y":13.0},{"p":"Srepok","k":"pt","g":"r","x":-25.6,"y":12.3},{"p":"Srepok","k":"pt","g":"r","x":-24.1,"y":12.4},{"p":"Srepok","k":"pt","g":"r","x":-22.9,"y":12.4},{"p":"Srepok","k":"pt","g":"r","x":-22.3,"y":12.3},{"p":"Srepok","k":"pt","g":"r","x":-18.9,"y":12.3},{"p":"Srepok","k":"pt","g":"r","x":-21.0,"y":11.9},{"p":"Srepok","k":"pt","g":"r","x":-26.7,"y":11.2},{"p":"Srepok","k":"pt","g":"r","x":-25.3,"y":11.4},{"p":"Srepok","k":"pt","g":"r","x":-24.1,"y":11.5},{"p":"Srepok","k":"pt","g":"r","x":-23.2,"y":11.7},{"p":"Srepok","k":"pt","g":"r","x":-22.0,"y":11.4},{"p":"Srepok","k":"pt","g":"r","x":-19.1,"y":11.2},{"p":"Srepok","k":"pt","g":"r","x":-18.2,"y":11.2},{"p":"Srepok","k":"pt","g":"r","x":-17.4,"y":11.2},{"p":"Srepok","k":"pt","g":"r","x":-25.9,"y":10.8},{"p":"Srepok","k":"pt","g":"r","x":-24.7,"y":10.8},{"p":"Srepok","k":"pt","g":"r","x":-23.5,"y":10.9},{"p":"Srepok","k":"pt","g":"r","x":-22.6,"y":10.8},{"p":"Srepok","k":"pt","g":"r","x":-21.1,"y":10.9},{"p":"Srepok","k":"pt","g":"r","x":-20.3,"y":10.6},{"p":"Srepok","k":"pt","g":"r","x":-21.4,"y":10.4},{"p":"Srepok","k":"pt","g":"r","x":-25.3,"y":10.0},{"p":"Srepok","k":"pt","g":"r","x":-24.1,"y":10.2},{"p":"Srepok","k":"pt","g":"r","x":-22.9,"y":10.0},{"p":"Srepok","k":"pt","g":"r","x":-22.0,"y":10.0},{"p":"Srepok","k":"pt","g":"r","x":-20.6,"y":9.9},{"p":"Srepok","k":"pt","g":"r","x":-20.0,"y":9.6},{"p":"Srepok","k":"pt","g":"r","x":-27.4,"y":9.4},{"p":"Srepok","k":"pt","g":"r","x":-25.9,"y":9.5},{"p":"Srepok","k":"pt","g":"r","x":-24.7,"y":9.3},{"p":"Srepok","k":"pt","g":"r","x":-23.5,"y":9.3},{"p":"Srepok","k":"pt","g":"r","x":-22.3,"y":9.3},{"p":"Srepok","k":"pt","g":"r","x":-21.4,"y":9.2},{"p":"Srepok","k":"pt","g":"r","x":-18.9,"y":9.1},{"p":"Srepok","k":"pt","g":"r","x":-25.3,"y":8.8},{"p":"Srepok","k":"pt","g":"r","x":-24.1,"y":8.7},{"p":"Srepok","k":"pt","g":"r","x":-22.9,"y":8.5},{"p":"Srepok","k":"pt","g":"r","x":-22.0,"y":8.7},{"p":"Srepok","k":"pt","g":"r","x":-21.1,"y":8.3},{"p":"Srepok","k":"pt","g":"r","x":-20.3,"y":8.3},{"p":"Srepok","k":"pt","g":"r","x":-27.1,"y":8.2},{"p":"Srepok","k":"pt","g":"r","x":-26.4,"y":8.3},{"p":"Srepok","k":"pt","g":"r","x":-24.4,"y":7.7},{"p":"Srepok","k":"pt","g":"r","x":-23.2,"y":7.8},{"p":"Srepok","k":"pt","g":"r","x":-22.3,"y":7.9},{"p":"Srepok","k":"pt","g":"r","x":-20.8,"y":7.4},{"p":"Srepok","k":"pt","g":"r","x":-19.7,"y":7.6},{"p":"Srepok","k":"pt","g":"r","x":-18.9,"y":8.0},{"p":"Srepok","k":"pt","g":"r","x":-26.5,"y":7.6},{"p":"Srepok","k":"pt","g":"r","x":-25.2,"y":7.6},{"p":"Srepok","k":"pt","g":"r","x":-25.2,"y":7.0},{"p":"Srepok","k":"pt","g":"r","x":-23.8,"y":7.1},{"p":"Srepok","k":"pt","g":"r","x":-19.5,"y":7.3},{"p":"Srepok","k":"pt","g":"r","x":-18.9,"y":6.8},{"p":"Srepok","k":"pt","g":"r","x":-23.5,"y":8.5},{"p":"Srepok","k":"pt","g":"r","x":-22.6,"y":9.6},{"p":"Srepok","k":"pt","g":"r","x":-23.8,"y":10.5},{"p":"Srepok","k":"pt","g":"r","x":-23.0,"y":9.6},{"p":"Srepok","k":"pt","g":"r","x":-24.5,"y":9.9},{"p":"Srepok","k":"pt","g":"r","x":-23.3,"y":11.0},
{"p":"Srepok","k":"pt","g":"r","x":-23.9,"y":12.1},{"p":"Srepok","k":"pt","g":"r","x":-23.4,"y":12.6},{"p":"Srepok","k":"pt","g":"r","x":-24.4,"y":10.7},{"p":"Srepok","k":"pt","g":"r","x":-22.2,"y":10.6},{"p":"Srepok","k":"pt","g":"r","x":-24.6,"y":9.6},{"p":"Srepok","k":"pt","g":"r","x":-23.6,"y":8.9},{"p":"Srepok","k":"pt","g":"r","x":-21.8,"y":9.6},{"p":"Srepok","k":"pt","g":"r","x":-22.6,"y":8.1},{"p":"Srepok","k":"pt","g":"r","x":-24.8,"y":8.2},{"p":"Srepok","k":"pt","g":"r","x":-21.3,"y":9.9},{"p":"Srepok","k":"pt","g":"r","x":-20.8,"y":11.4},{"p":"Srepok","k":"pt","g":"r","x":-25.9,"y":9.9},{"p":"Srepok","k":"pt","g":"r","x":-22.6,"y":11.9},
{"p":"Mekong","k":"src","g":"b","s":"square","x":-39.4,"y":5.9,"xl":-41.65,"xh":-37.2,"yl":4.0,"yh":7.85},
{"p":"Mekong","k":"src","g":"b","s":"triangle","x":-36.9,"y":7.0,"xl":-38.4,"xh":-35.3,"yl":4.8,"yh":9.2},
{"p":"Mekong","k":"src","g":"r","s":"diamond","x":-29.1,"y":7.0,"xl":-30.55,"xh":-27.6,"yl":5.2,"yh":8.8},
{"p":"Mekong","k":"src","g":"b","s":"diamond","x":-29.25,"y":5.7,"xl":-30.9,"xh":-27.6,"yl":3.8,"yh":7.6},
{"p":"Mekong","k":"src","g":"r","s":"triangle","x":-25.4,"y":6.0,"xl":-27.0,"xh":-23.8,"yl":4.2,"yh":7.8},
{"p":"Mekong","k":"src","g":"r","s":"square","x":-19.0,"y":5.15,"xl":-20.8,"xh":-17.05,"yl":4.6,"yh":5.7},
{"p":"Mekong","k":"src","g":"r","s":"dash","x":-13.2,"y":3.4,"xl":-14.0,"xh":-12.4,"yl":2.35,"yh":4.4},
{"p":"Mekong","k":"src","g":"b","s":"dash","x":-11.8,"y":3.75,"xl":-14.4,"xh":-9.2,"yl":1.55,"yh":5.95},
{"p":"Sekong","k":"src","g":"b","s":"triangle","x":-39.75,"y":6.4,"xl":-42.9,"xh":-36.55,"yl":5.2,"yh":7.55},
{"p":"Sekong","k":"src","g":"b","s":"square","x":-35.2,"y":5.75,"xl":-37.65,"xh":-32.75,"yl":4.0,"yh":7.55},
{"p":"Sekong","k":"src","g":"r","s":"diamond","x":-30.85,"y":5.65,"xl":-32.15,"xh":-29.4,"yl":3.65,"yh":7.65},
{"p":"Sekong","k":"src","g":"b","s":"diamond","x":-29.3,"y":4.3,"xl":-31.5,"xh":-27.2,"yl":3.05,"yh":5.6},
{"p":"Sekong","k":"src","g":"r","s":"triangle","x":-26.75,"y":5.3,"xl":-28.5,"xh":-24.95,"yl":4.25,"yh":6.4},
{"p":"Sekong","k":"src","g":"r","s":"square","x":-18.7,"y":5.45,"xl":-21.6,"xh":-15.85,"yl":4.35,"yh":6.5},
{"p":"Sekong","k":"src","g":"r","s":"dash","x":-12.5,"y":4.15,"xl":-13.0,"xh":-11.95,"yl":2.25,"yh":6.1},
{"p":"Sekong","k":"src","g":"b","s":"dash","x":-12.0,"y":3.45,"xl":-13.45,"xh":-10.45,"yl":2.9,"yh":4.0},
{"p":"Sesan","k":"src","g":"b","s":"square","x":-39.75,"y":5.75,"xl":-41.45,"xh":-38.0,"yl":4.6,"yh":7.0},
{"p":"Sesan","k":"src","g":"b","s":"triangle","x":-36.4,"y":6.25,"xl":-38.15,"xh":-34.6,"yl":3.4,"yh":9.15},
{"p":"Sesan","k":"src","g":"r","s":"diamond","x":-30.4,"y":6.0,"xl":-31.65,"xh":-29.15,"yl":3.2,"yh":8.8},
{"p":"Sesan","k":"src","g":"b","s":"diamond","x":-28.45,"y":4.45,"xl":-30.15,"xh":-26.75,"yl":3.3,"yh":5.65},
{"p":"Sesan","k":"src","g":"r","s":"triangle","x":-26.05,"y":5.9,"xl":-27.05,"xh":-24.95,"yl":5.5,"yh":6.35},
{"p":"Sesan","k":"src","g":"r","s":"square","x":-20.3,"y":5.05,"xl":-21.65,"xh":-18.95,"yl":4.0,"yh":6.05},
{"p":"Sesan","k":"src","g":"r","s":"dash","x":-13.1,"y":4.5,"xl":-15.15,"xh":-11.0,"yl":2.85,"yh":6.15},
{"p":"Sesan","k":"src","g":"b","s":"dash","x":-11.5,"y":4.1,"xl":-12.1,"xh":-10.9,"yl":3.05,"yh":5.1},
{"p":"Srepok","k":"src","g":"b","s":"square","x":-38.25,"y":6.1,"xl":-39.15,"xh":-37.3,"yl":3.0,"yh":9.3},
{"p":"Srepok","k":"src","g":"b","s":"triangle","x":-37.75,"y":7.5,"xl":-40.35,"xh":-35.1,"yl":4.55,"yh":10.45},
{"p":"Srepok","k":"src","g":"r","s":"diamond","x":-29.0,"y":6.8,"xl":-29.6,"xh":-28.4,"yl":5.8,"yh":7.8},
{"p":"Srepok","k":"src","g":"b","s":"diamond","x":-28.75,"y":5.1,"xl":-30.4,"xh":-27.1,"yl":4.45,"yh":5.8},
{"p":"Srepok","k":"src","g":"r","s":"triangle","x":-25.85,"y":4.9,"xl":-26.65,"xh":-25.05,"yl":3.75,"yh":6.1},
{"p":"Srepok","k":"src","g":"r","s":"square","x":-18.4,"y":4.7,"xl":-20.45,"xh":-16.35,"yl":2.4,"yh":7.05},
{"p":"Srepok","k":"src","g":"r","s":"dash","x":-12.15,"y":3.5,"xl":-13.1,"xh":-11.2,"yl":0.4,"yh":6.65},
{"p":"Srepok","k":"src","g":"b","s":"dash","x":-11.15,"y":2.9,"xl":-12.05,"xh":-10.25,"yl":1.65,"yh":4.15}
]},
"columns":2,
"spacing":{"row":80,"column":61},
"bounds":"flush",
"concat":[
{"width":437,"height":282,"title":{"text":"Mekong"},"transform":[{"filter":"datum.p=='Mekong'"}],
 "layer":[
  {"transform":[{"filter":"datum.k=='src'"}],"mark":{"type":"rule","color":"#262626","strokeWidth":1.8},
   "encoding":{"x":{"field":"xl","type":"quantitative","scale":{"domain":[-45,-5],"nice":false,"zero":false},"axis":{"values":[-45,-35,-25,-15,-5],"title":null}},"x2":{"field":"xh"},
   "y":{"field":"y","type":"quantitative","scale":{"domain":[0,16],"nice":false,"zero":false},"axis":{"values":[0,4,8,12,16],"title":"δ15N","titlePadding":5}}}},
  {"transform":[{"filter":"datum.k=='src'"}],"mark":{"type":"rule","color":"#262626","strokeWidth":1.8},
   "encoding":{"x":{"field":"x","type":"quantitative","scale":{"domain":[-45,-5]}},"y":{"field":"yl","type":"quantitative","scale":{"domain":[0,16]}},"y2":{"field":"yh"}}},
  {"transform":[{"filter":"datum.k=='src'"},{"fold":["xl","xh"],"as":["key","v"]}],"mark":{"type":"tick","orient":"vertical","size":10,"thickness":1.8,"color":"#262626"},
   "encoding":{"x":{"field":"v","type":"quantitative","scale":{"domain":[-45,-5]}},"y":{"field":"y","type":"quantitative","scale":{"domain":[0,16]}}}},
  {"transform":[{"filter":"datum.k=='src'"},{"fold":["yl","yh"],"as":["key","v"]}],"mark":{"type":"tick","orient":"horizontal","size":10,"thickness":1.8,"color":"#262626"},
   "encoding":{"x":{"field":"x","type":"quantitative","scale":{"domain":[-45,-5]}},"y":{"field":"v","type":"quantitative","scale":{"domain":[0,16]}}}},
  {"transform":[{"filter":"datum.k=='pt'"}],"mark":{"type":"circle","size":110,"opacity":1},
   "encoding":{"x":{"field":"x","type":"quantitative","scale":{"domain":[-45,-5]}},"y":{"field":"y","type":"quantitative","scale":{"domain":[0,16]}},"color":{"field":"g","type":"nominal","scale":{"domain":["b","r"],"range":["#4472C4","#EE2A24"]},"legend":null},"order":{"field":"g","type":"ordinal"}}},
  {"transform":[{"filter":"datum.k=='src'"}],"mark":{"type":"point","filled":true,"opacity":1,"size":529,"strokeWidth":0},
   "encoding":{"x":{"field":"x","type":"quantitative","scale":{"domain":[-45,-5]}},"y":{"field":"y","type":"quantitative","scale":{"domain":[0,16]}},"color":{"field":"g","type":"nominal","scale":{"domain":["b","r"],"range":["#4472C4","#EE2A24"]},"legend":null},
   "shape":{"field":"s","type":"nominal","scale":{"domain":["square","triangle","diamond","dash"],"range":["M-0.68,-0.68L0.68,-0.68L0.68,0.68L-0.68,0.68Z","M0,-0.7L0.8,0.7L-0.8,0.7Z","M-0.8,0L0,-0.8L0.8,0L0,0.8Z","M-1,-0.27L1,-0.27L1,0.27L-1,0.27Z"]},"legend":null}}}
 ]},
{"width":442,"height":282,"title":{"text":"Sekong"},"transform":[{"filter":"datum.p=='Sekong'"}],
 "layer":[
  {"transform":[{"filter":"datum.k=='src'"}],"mark":{"type":"rule","color":"#262626","strokeWidth":1.8},
   "encoding":{"x":{"field":"xl","type":"quantitative","scale":{"domain":[-45,-5],"nice":false,"zero":false},"axis":{"values":[-45,-35,-25,-15,-5],"title":null}},"x2":{"field":"xh"},
   "y":{"field":"y","type":"quantitative","scale":{"domain":[0,16],"nice":false,"zero":false},"axis":{"values":[0,4,8,12,16],"title":null}}}},
  {"transform":[{"filter":"datum.k=='src'"}],"mark":{"type":"rule","color":"#262626","strokeWidth":1.8},
   "encoding":{"x":{"field":"x","type":"quantitative","scale":{"domain":[-45,-5]}},"y":{"field":"yl","type":"quantitative","scale":{"domain":[0,16]}},"y2":{"field":"yh"}}},
  {"transform":[{"filter":"datum.k=='src'"},{"fold":["xl","xh"],"as":["key","v"]}],"mark":{"type":"tick","orient":"vertical","size":10,"thickness":1.8,"color":"#262626"},
   "encoding":{"x":{"field":"v","type":"quantitative","scale":{"domain":[-45,-5]}},"y":{"field":"y","type":"quantitative","scale":{"domain":[0,16]}}}},
  {"transform":[{"filter":"datum.k=='src'"},{"fold":["yl","yh"],"as":["key","v"]}],"mark":{"type":"tick","orient":"horizontal","size":10,"thickness":1.8,"color":"#262626"},
   "encoding":{"x":{"field":"x","type":"quantitative","scale":{"domain":[-45,-5]}},"y":{"field":"v","type":"quantitative","scale":{"domain":[0,16]}}}},
  {"transform":[{"filter":"datum.k=='pt'"}],"mark":{"type":"circle","size":110,"opacity":1},
   "encoding":{"x":{"field":"x","type":"quantitative","scale":{"domain":[-45,-5]}},"y":{"field":"y","type":"quantitative","scale":{"domain":[0,16]}},"color":{"field":"g","type":"nominal","scale":{"domain":["b","r"],"range":["#4472C4","#EE2A24"]},"legend":null},"order":{"field":"g","type":"ordinal"}}},
  {"transform":[{"filter":"datum.k=='src'"}],"mark":{"type":"point","filled":true,"opacity":1,"size":529,"strokeWidth":0},
   "encoding":{"x":{"field":"x","type":"quantitative","scale":{"domain":[-45,-5]}},"y":{"field":"y","type":"quantitative","scale":{"domain":[0,16]}},"color":{"field":"g","type":"nominal","scale":{"domain":["b","r"],"range":["#4472C4","#EE2A24"]},"legend":null},
   "shape":{"field":"s","type":"nominal","scale":{"domain":["square","triangle","diamond","dash"],"range":["M-0.68,-0.68L0.68,-0.68L0.68,0.68L-0.68,0.68Z","M0,-0.7L0.8,0.7L-0.8,0.7Z","M-0.8,0L0,-0.8L0.8,0L0,0.8Z","M-1,-0.27L1,-0.27L1,0.27L-1,0.27Z"]},"legend":null}}}
 ]},
{"width":432,"height":283,"title":{"text":"Sesan"},"transform":[{"filter":"datum.p=='Sesan'"}],
 "layer":[
  {"transform":[{"filter":"datum.k=='src'"}],"mark":{"type":"rule","color":"#262626","strokeWidth":1.8},
   "encoding":{"x":{"field":"xl","type":"quantitative","scale":{"domain":[-45,-5],"nice":false,"zero":false},"axis":{"values":[-45,-35,-25,-15,-5],"title":"δ13C"}},"x2":{"field":"xh"},
   "y":{"field":"y","type":"quantitative","scale":{"domain":[0,16],"nice":false,"zero":false},"axis":{"values":[0,4,8,12,16],"title":null}}}},
  {"transform":[{"filter":"datum.k=='src'"}],"mark":{"type":"rule","color":"#262626","strokeWidth":1.8},
   "encoding":{"x":{"field":"x","type":"quantitative","scale":{"domain":[-45,-5]}},"y":{"field":"yl","type":"quantitative","scale":{"domain":[0,16]}},"y2":{"field":"yh"}}},
  {"transform":[{"filter":"datum.k=='src'"},{"fold":["xl","xh"],"as":["key","v"]}],"mark":{"type":"tick","orient":"vertical","size":10,"thickness":1.8,"color":"#262626"},
   "encoding":{"x":{"field":"v","type":"quantitative","scale":{"domain":[-45,-5]}},"y":{"field":"y","type":"quantitative","scale":{"domain":[0,16]}}}},
  {"transform":[{"filter":"datum.k=='src'"},{"fold":["yl","yh"],"as":["key","v"]}],"mark":{"type":"tick","orient":"horizontal","size":10,"thickness":1.8,"color":"#262626"},
   "encoding":{"x":{"field":"x","type":"quantitative","scale":{"domain":[-45,-5]}},"y":{"field":"v","type":"quantitative","scale":{"domain":[0,16]}}}},
  {"transform":[{"filter":"datum.k=='pt'"}],"mark":{"type":"circle","size":110,"opacity":1},
   "encoding":{"x":{"field":"x","type":"quantitative","scale":{"domain":[-45,-5]}},"y":{"field":"y","type":"quantitative","scale":{"domain":[0,16]}},"color":{"field":"g","type":"nominal","scale":{"domain":["b","r"],"range":["#4472C4","#EE2A24"]},"legend":null},"order":{"field":"g","type":"ordinal"}}},
  {"transform":[{"filter":"datum.k=='src'"}],"mark":{"type":"point","filled":true,"opacity":1,"size":529,"strokeWidth":0},
   "encoding":{"x":{"field":"x","type":"quantitative","scale":{"domain":[-45,-5]}},"y":{"field":"y","type":"quantitative","scale":{"domain":[0,16]}},"color":{"field":"g","type":"nominal","scale":{"domain":["b","r"],"range":["#4472C4","#EE2A24"]},"legend":null},
   "shape":{"field":"s","type":"nominal","scale":{"domain":["square","triangle","diamond","dash"],"range":["M-0.68,-0.68L0.68,-0.68L0.68,0.68L-0.68,0.68Z","M0,-0.7L0.8,0.7L-0.8,0.7Z","M-0.8,0L0,-0.8L0.8,0L0,0.8Z","M-1,-0.27L1,-0.27L1,0.27L-1,0.27Z"]},"legend":null}}}
 ]},
{"width":442,"height":283,"title":{"text":"Srepok"},"transform":[{"filter":"datum.p=='Srepok'"}],
 "layer":[
  {"transform":[{"filter":"datum.k=='src'"}],"mark":{"type":"rule","color":"#262626","strokeWidth":1.8},
   "encoding":{"x":{"field":"xl","type":"quantitative","scale":{"domain":[-45,-5],"nice":false,"zero":false},"axis":{"values":[-45,-35,-25,-15,-5],"title":"δ13C"}},"x2":{"field":"xh"},
   "y":{"field":"y","type":"quantitative","scale":{"domain":[0,16],"nice":false,"zero":false},"axis":{"values":[0,4,8,12,16],"title":"δ15N","titlePadding":2}}}},
  {"transform":[{"filter":"datum.k=='src'"}],"mark":{"type":"rule","color":"#262626","strokeWidth":1.8},
   "encoding":{"x":{"field":"x","type":"quantitative","scale":{"domain":[-45,-5]}},"y":{"field":"yl","type":"quantitative","scale":{"domain":[0,16]}},"y2":{"field":"yh"}}},
  {"transform":[{"filter":"datum.k=='src'"},{"fold":["xl","xh"],"as":["key","v"]}],"mark":{"type":"tick","orient":"vertical","size":10,"thickness":1.8,"color":"#262626"},
   "encoding":{"x":{"field":"v","type":"quantitative","scale":{"domain":[-45,-5]}},"y":{"field":"y","type":"quantitative","scale":{"domain":[0,16]}}}},
  {"transform":[{"filter":"datum.k=='src'"},{"fold":["yl","yh"],"as":["key","v"]}],"mark":{"type":"tick","orient":"horizontal","size":10,"thickness":1.8,"color":"#262626"},
   "encoding":{"x":{"field":"x","type":"quantitative","scale":{"domain":[-45,-5]}},"y":{"field":"v","type":"quantitative","scale":{"domain":[0,16]}}}},
  {"transform":[{"filter":"datum.k=='pt'"}],"mark":{"type":"circle","size":110,"opacity":1},
   "encoding":{"x":{"field":"x","type":"quantitative","scale":{"domain":[-45,-5]}},"y":{"field":"y","type":"quantitative","scale":{"domain":[0,16]}},"color":{"field":"g","type":"nominal","scale":{"domain":["b","r"],"range":["#4472C4","#EE2A24"]},"legend":null},"order":{"field":"g","type":"ordinal"}}},
  {"transform":[{"filter":"datum.k=='src'"}],"mark":{"type":"point","filled":true,"opacity":1,"size":529,"strokeWidth":0},
   "encoding":{"x":{"field":"x","type":"quantitative","scale":{"domain":[-45,-5]}},"y":{"field":"y","type":"quantitative","scale":{"domain":[0,16]}},"color":{"field":"g","type":"nominal","scale":{"domain":["b","r"],"range":["#4472C4","#EE2A24"]},"legend":null},
   "shape":{"field":"s","type":"nominal","scale":{"domain":["square","triangle","diamond","dash"],"range":["M-0.68,-0.68L0.68,-0.68L0.68,0.68L-0.68,0.68Z","M0,-0.7L0.8,0.7L-0.8,0.7Z","M-0.8,0L0,-0.8L0.8,0L0,0.8Z","M-1,-0.27L1,-0.27L1,0.27L-1,0.27Z"]},"legend":null}}}
 ]}
],
"config":{
 "view":{"stroke":null},
 "font":"Open Sans",
 "axis":{"grid":false,"domainColor":"#333333","domainWidth":1.6,"tickColor":"#333333","tickWidth":1.6,"tickSize":7,"labelFont":"Open Sans","labelFontSize":21,"labelColor":"#262626","labelFlush":false,"labelOverlap":false,"labelExpr":"replace(datum.label,'−','-')","titleFont":"Open Sans","titleFontSize":22,"titleFontWeight":"normal","titleColor":"#262626"},
 "axisX":{"labelPadding":15,"titlePadding":16},
 "axisY":{"labelPadding":13,"labelOffset":4},
 "title":{"anchor":"start","frame":"group","fontSize":25,"fontWeight":"normal","color":"#1a1a1a","font":"Open Sans","baseline":"top","offset":-33,"dx":6}
}
}
